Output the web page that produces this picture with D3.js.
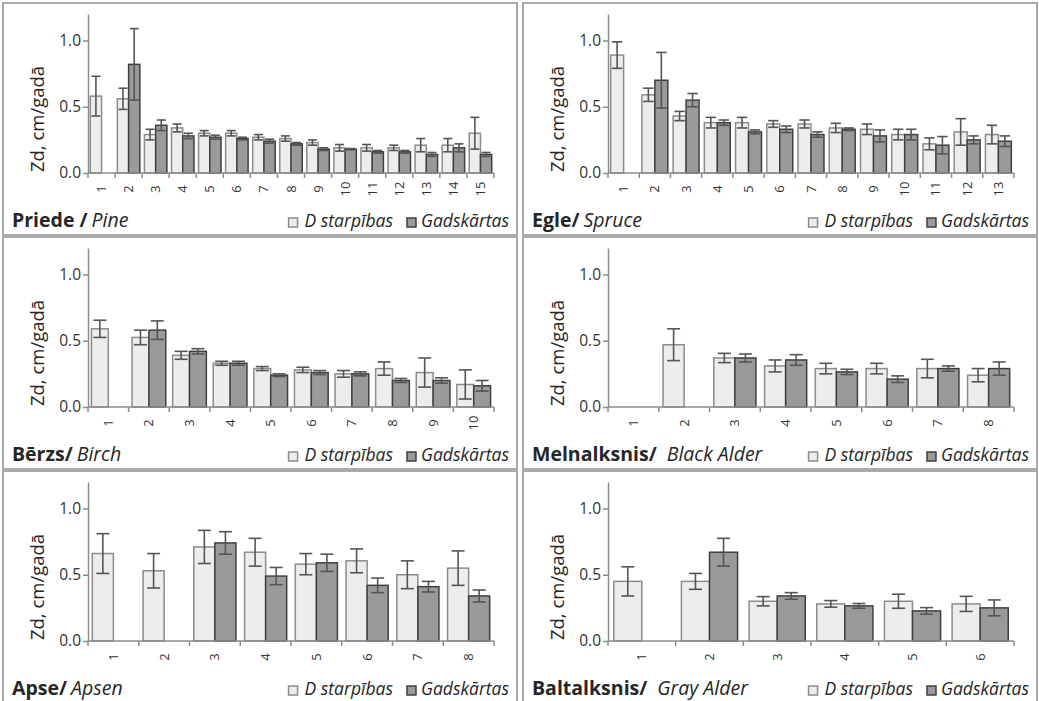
<!DOCTYPE html>
<html>
<head>
<meta charset="utf-8">
<script src="https://cdn.jsdelivr.net/npm/d3@7"></script>
<style>
  body { margin: 0; background: #fff; }
  #chart { width: 1039px; height: 701px; }
  text { font-family: "Open Sans", "Noto Sans", sans-serif; fill: #262626; }
</style>
</head>
<body>
<div id="chart"></div>
<script>
// Category labels (tree age classes)
const labels15 = ["1", "2", "3", "4", "5", "6", "7", "8", "9", "10", "11", "12", "13", "14", "15"];
const labels13 = ["1", "2", "3", "4", "5", "6", "7", "8", "9", "10", "11", "12", "13"];
const labels10 = ["1", "2", "3", "4", "5", "6", "7", "8", "9", "10"];
const labels8 = ["1", "2", "3", "4", "5", "6", "7", "8"];
const labels6 = ["1", "2", "3", "4", "5", "6"];

// Priede / Pine
const pineD = [0.58, 0.56, 0.29, 0.34, 0.30, 0.30, 0.27, 0.26, 0.23, 0.19, 0.19, 0.19, 0.21, 0.21, 0.30];
const pineDErr = [0.15, 0.08, 0.04, 0.03, 0.02, 0.02, 0.02, 0.02, 0.02, 0.025, 0.025, 0.02, 0.05, 0.05, 0.12];
const pineG = [null, 0.82, 0.36, 0.28, 0.27, 0.26, 0.24, 0.22, 0.18, 0.18, 0.16, 0.16, 0.14, 0.19, 0.14];
const pineGErr = [null, 0.27, 0.04, 0.02, 0.015, 0.01, 0.015, 0.01, 0.01, 0.005, 0.01, 0.01, 0.015, 0.03, 0.015];

// Egle / Spruce
const spruceD = [0.89, 0.59, 0.43, 0.38, 0.38, 0.37, 0.37, 0.34, 0.33, 0.29, 0.22, 0.31, 0.29];
const spruceDErr = [0.10, 0.05, 0.035, 0.04, 0.04, 0.025, 0.03, 0.035, 0.04, 0.04, 0.045, 0.10, 0.07];
const spruceG = [null, 0.70, 0.55, 0.38, 0.31, 0.33, 0.29, 0.33, 0.28, 0.29, 0.21, 0.25, 0.24];
const spruceGErr = [null, 0.21, 0.05, 0.02, 0.015, 0.025, 0.02, 0.01, 0.045, 0.04, 0.065, 0.03, 0.04];

// Bērzs / Birch
const birchD = [0.59, 0.525, 0.39, 0.33, 0.29, 0.28, 0.25, 0.29, 0.26, 0.17];
const birchDErr = [0.065, 0.055, 0.03, 0.015, 0.015, 0.02, 0.025, 0.05, 0.11, 0.11];
const birchG = [null, 0.58, 0.42, 0.33, 0.24, 0.26, 0.25, 0.20, 0.20, 0.16];
const birchGErr = [null, 0.07, 0.02, 0.015, 0.01, 0.015, 0.015, 0.015, 0.02, 0.04];

// Melnalksnis / Black Alder
const blackAlderD = [null, 0.47, 0.37, 0.31, 0.29, 0.29, 0.29, 0.24];
const blackAlderDErr = [null, 0.12, 0.035, 0.045, 0.04, 0.04, 0.07, 0.05];
const blackAlderG = [null, null, 0.37, 0.355, 0.265, 0.21, 0.29, 0.29];
const blackAlderGErr = [null, null, 0.03, 0.04, 0.02, 0.025, 0.02, 0.05];

// Apse / Apsen
const aspenD = [0.66, 0.53, 0.71, 0.67, 0.58, 0.605, 0.50, 0.55];
const aspenDErr = [0.15, 0.13, 0.125, 0.105, 0.08, 0.09, 0.105, 0.13];
const aspenG = [null, null, 0.74, 0.49, 0.59, 0.42, 0.41, 0.34];
const aspenGErr = [null, null, 0.085, 0.065, 0.065, 0.055, 0.04, 0.045];

// Baltalksnis / Gray Alder
const grayAlderD = [0.45, 0.45, 0.30, 0.28, 0.30, 0.28];
const grayAlderDErr = [0.11, 0.06, 0.035, 0.025, 0.053, 0.057];
const grayAlderG = [null, 0.67, 0.34, 0.265, 0.227, 0.25];
const grayAlderGErr = [null, 0.105, 0.025, 0.018, 0.025, 0.06];

// Series names, axis labels
const seriesNames = ["D starpības", "Gadskārtas"];
const yTicks = [0, 0.5, 1.0];
const yLabel = "Zd, cm/gadā";

const panels = [
  { lv: "Priede /", en: "Pine", gap: 4, labels: labels15, d: pineD, dErr: pineDErr, g: pineG, gErr: pineGErr },
  { lv: "Egle/", en: "Spruce", gap: 4, labels: labels13, d: spruceD, dErr: spruceDErr, g: spruceG, gErr: spruceGErr },
  { lv: "Bērzs/", en: "Birch", gap: 4, labels: labels10, d: birchD, dErr: birchDErr, g: birchG, gErr: birchGErr },
  { lv: "Melnalksnis/", en: "Black Alder", gap: 10, labels: labels8, d: blackAlderD, dErr: blackAlderDErr, g: blackAlderG, gErr: blackAlderGErr },
  { lv: "Apse/", en: "Apsen", gap: 4, labels: labels8, d: aspenD, dErr: aspenDErr, g: aspenG, gErr: aspenGErr },
  { lv: "Baltalksnis/", en: "Gray Alder", gap: 10, labels: labels6, d: grayAlderD, dErr: grayAlderDErr, g: grayAlderG, gErr: grayAlderGErr }
];

// Panel geometry
const panelW = 514, panelH = 232;
const colX = [3, 523], rowY = [3, 237, 471];
const plot = { left: 85, right: 491, top: 11, bottom: 170 };

const colors = {
  lightFill: "#ededed", lightStroke: "#8c8c8c",
  darkFill: "#9a9a9a", darkStroke: "#3f3f3f",
  err: "#555555", axis: "#8c8c8c", border: "#8f8f8f"
};

const svg = d3.select("#chart")
  .append("svg")
  .attr("width", 1039)
  .attr("height", 701);

panels.forEach((p, i) => {
  const g = svg.append("g")
    .attr("transform", `translate(${colX[i % 2]},${rowY[Math.floor(i / 2)]})`);

  // Panel border
  g.append("rect")
    .attr("x", 0).attr("y", 0)
    .attr("width", panelW).attr("height", panelH)
    .attr("fill", "none")
    .attr("stroke", colors.border)
    .attr("stroke-width", 1.5);

  const y = d3.scaleLinear().domain([0, 1.2]).range([plot.bottom, plot.top]);
  const x = d3.scaleBand().domain(p.labels).range([plot.left, plot.right]);
  const bw = x.bandwidth();
  const x1 = d3.scaleBand().domain(seriesNames).range([bw * 0.085, bw * 0.915]);

  // Y axis
  const yAxis = g.append("g")
    .attr("transform", `translate(${plot.left},0)`)
    .call(d3.axisLeft(y).tickValues(yTicks).tickFormat(d3.format(".1f")).tickSize(5).tickSizeOuter(0));
  yAxis.select(".domain").attr("stroke", colors.axis).attr("stroke-width", 1.5);
  yAxis.selectAll(".tick line").attr("stroke", colors.axis).attr("stroke-width", 1.5);
  yAxis.selectAll(".tick text").attr("x", -7).style("font-size", "15.5px").style("fill", "#333");

  // Y axis caption
  g.append("text")
    .attr("transform", `translate(41,116) rotate(-90)`)
    .attr("text-anchor", "middle")
    .style("font-size", "18.5px")
    .text(yLabel);

  // Bars
  const rows = p.labels.map((c, k) => ({ c: c, vals: [
    { s: seriesNames[0], v: p.d[k], e: p.dErr[k], fill: colors.lightFill, stroke: colors.lightStroke },
    { s: seriesNames[1], v: p.g[k], e: p.gErr[k], fill: colors.darkFill, stroke: colors.darkStroke }
  ].filter(o => o.v != null) }));

  const groups = g.selectAll(".cat")
    .data(rows)
    .enter()
    .append("g")
    .attr("transform", d => `translate(${x(d.c)},0)`);

  groups.selectAll("rect")
    .data(d => d.vals)
    .enter()
    .append("rect")
    .attr("x", d => x1(d.s))
    .attr("y", d => y(d.v))
    .attr("width", x1.bandwidth())
    .attr("height", d => y(0) - y(d.v))
    .attr("fill", d => d.fill)
    .attr("stroke", d => d.stroke)
    .attr("stroke-width", 1.5);

  // Error bars
  const cap = Math.min(13, x1.bandwidth() * 0.8) / 2;
  const eb = groups.selectAll(".err")
    .data(d => d.vals)
    .enter()
    .append("g")
    .attr("stroke", colors.err)
    .attr("stroke-width", 1.6);
  eb.append("line")
    .attr("x1", d => x1(d.s) + x1.bandwidth() / 2)
    .attr("x2", d => x1(d.s) + x1.bandwidth() / 2)
    .attr("y1", d => y(d.v + d.e))
    .attr("y2", d => y(d.v - d.e));
  eb.append("line")
    .attr("x1", d => x1(d.s) + x1.bandwidth() / 2 - cap)
    .attr("x2", d => x1(d.s) + x1.bandwidth() / 2 + cap)
    .attr("y1", d => y(d.v + d.e))
    .attr("y2", d => y(d.v + d.e));
  eb.append("line")
    .attr("x1", d => x1(d.s) + x1.bandwidth() / 2 - cap)
    .attr("x2", d => x1(d.s) + x1.bandwidth() / 2 + cap)
    .attr("y1", d => y(d.v - d.e))
    .attr("y2", d => y(d.v - d.e));

  // X axis line with ticks at category boundaries
  g.append("line")
    .attr("x1", plot.left).attr("x2", plot.right)
    .attr("y1", y(0)).attr("y2", y(0))
    .attr("stroke", colors.axis).attr("stroke-width", 1.5);
  const bounds = p.labels.map(c => x(c)).concat([plot.right]);
  g.selectAll(".xtick")
    .data(bounds)
    .enter()
    .append("line")
    .attr("x1", d => d).attr("x2", d => d)
    .attr("y1", y(0)).attr("y2", y(0) + 5)
    .attr("stroke", colors.axis).attr("stroke-width", 1.5);

  // Rotated x labels
  g.selectAll(".xlabel")
    .data(p.labels)
    .enter()
    .append("text")
    .attr("transform", d => `translate(${x(d) + bw / 2 + 4.5},186) rotate(-90)`)
    .attr("text-anchor", "middle")
    .style("font-size", "13px")
    .style("fill", "#333")
    .text(d => d);

  // Title: Latvian bold / English italic
  const title = g.append("text")
    .attr("x", 9)
    .attr("y", 224)
    .style("font-size", "19.5px");
  title.append("tspan").style("font-weight", "bold").text(p.lv);
  title.append("tspan").attr("dx", p.gap).style("font-style", "italic").text(p.en);

  // Legend, right-aligned at the panel edge
  const leg = g.append("g").style("font-size", "17.5px").style("font-style", "italic");
  const t2 = leg.append("text").attr("x", 506).attr("y", 224)
    .attr("text-anchor", "end").text(seriesNames[1]);
  const x2 = 506 - t2.node().getComputedTextLength();
  leg.append("rect")
    .attr("x", x2 - 14).attr("y", 215).attr("width", 9).attr("height", 9)
    .attr("fill", colors.darkFill).attr("stroke", colors.darkStroke).attr("stroke-width", 1.5);
  const t1 = leg.append("text").attr("x", x2 - 28).attr("y", 224)
    .attr("text-anchor", "end").text(seriesNames[0]);
  const x1L = x2 - 28 - t1.node().getComputedTextLength();
  leg.append("rect")
    .attr("x", x1L - 16).attr("y", 215).attr("width", 9).attr("height", 9)
    .attr("fill", colors.lightFill).attr("stroke", colors.lightStroke).attr("stroke-width", 1.5);
});
</script>
</body>
</html>
